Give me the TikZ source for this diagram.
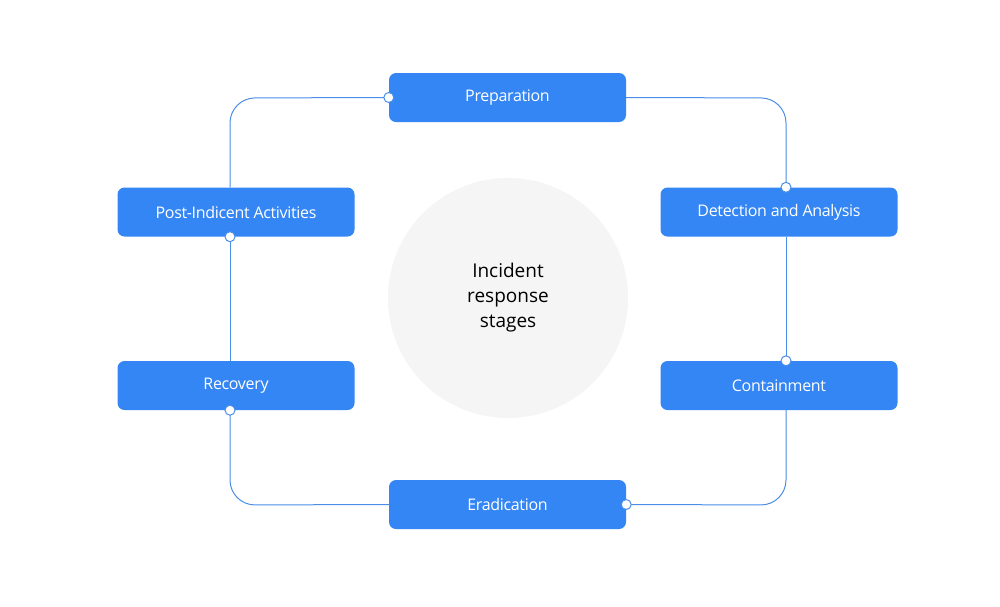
\documentclass[tikz,border=0pt]{standalone}
\usepackage{fontspec}
\setmainfont{Open Sans}
\begin{document}
\begin{tikzpicture}[x=1pt,y=-1pt,
  box/.style={draw=none,fill=boxblue,rounded corners=7pt,minimum width=237pt,minimum height=49pt,text=white,font=\fontsize{16}{18}\selectfont\addfontfeatures{LetterSpace=-2}},
  conn/.style={draw=lineblue,line width=1pt,rounded corners=25pt},
  dot/.style={circle,draw=lineblue,fill=white,line width=1pt,inner sep=0pt,minimum size=10pt}]
\definecolor{boxblue}{HTML}{3486F4}
\definecolor{lineblue}{HTML}{4A8EE8}
\useasboundingbox (0,0) rectangle (1000,606);
\fill[white] (0,0) rectangle (1000,606);
\node[circle,fill=black!4,minimum size=240pt,align=center,font=\fontsize{19}{25}\selectfont] (c) at (508,298) {Incident\\response\\stages};
\node[box] (prep) at (507.5,97.5) {Preparation};
\node[box] (det) at (779,212) {Detection and Analysis};
\node[box] (cont) at (779,385.5) {Containment};
\node[box] (erad) at (507.5,504.5) {Eradication};
\node[box] (rec) at (236,385.5) {Recovery};
\node[box] (post) at (236,212) {Post-Indicent Activities};
\coordinate (tl) at (230,98);\coordinate (tr) at (786,98);
\coordinate (bl) at (230,505);\coordinate (br) at (786,505);
\draw[conn] (prep.west) -- (tl) -- (post.north -| tl);
\draw[conn] (post.south -| tl) -- (rec.north -| tl);
\draw[conn] (rec.south -| bl) -- (bl) -- (erad.west);
\draw[conn] (erad.east) -- (br) -- (cont.south -| br);
\draw[conn] (cont.north -| br) -- (det.south -| br);
\draw[conn] (det.north -| tr) -- (tr) -- (prep.east);
\node[dot] at (prep.west) {};
\node[dot] at (post.south -| tl) {};
\node[dot] at (rec.south -| bl) {};
\node[dot] at (erad.east) {};
\node[dot] at (cont.north -| br) {};
\node[dot] at (det.north -| tr) {};
\end{tikzpicture}
\end{document}
